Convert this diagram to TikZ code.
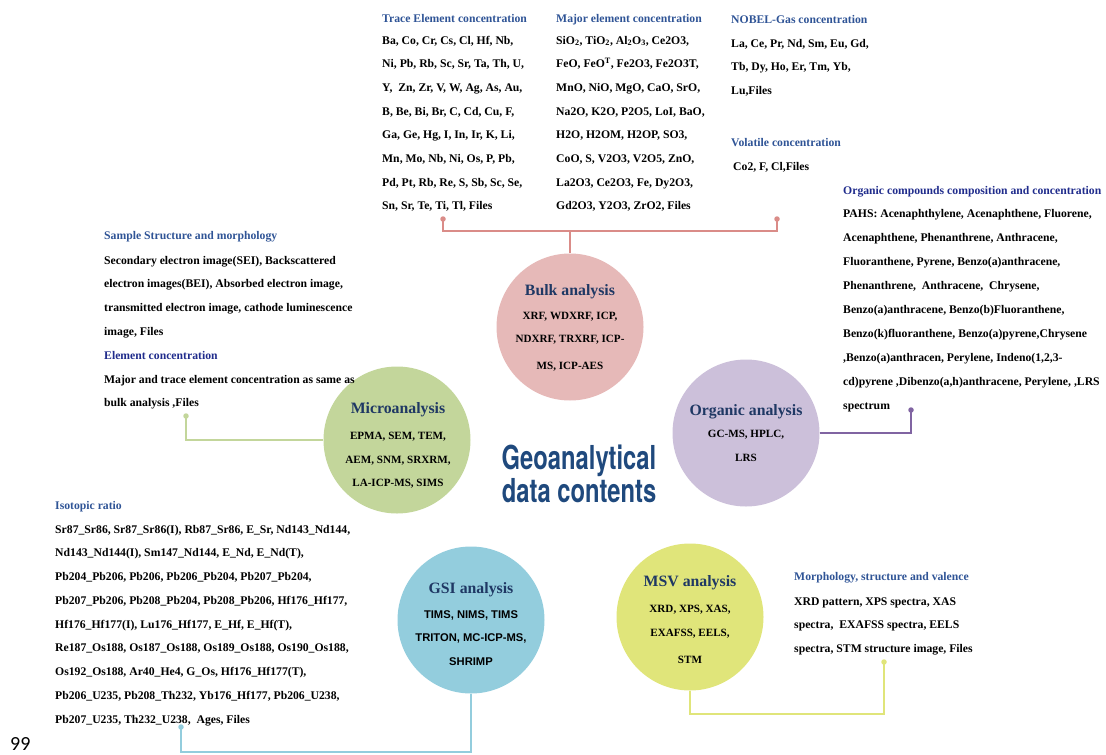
\documentclass[tikz,border=0pt]{standalone}
\usepackage{fontspec}
\setmainfont{Liberation Serif}
\newfontfamily\gsisans{Liberation Sans}
\newfontfamily\geotitlefont{TeX Gyre Heros}
\newfontfamily\pagenumfont{Carlito}
\definecolor{hdrblue}{RGB}{47,84,150}
\definecolor{hdrnavy}{RGB}{32,44,140}
\definecolor{ctblue}{RGB}{31,56,100}
\definecolor{geoblue}{RGB}{31,73,125}
\definecolor{bulkfill}{RGB}{230,185,184}
\definecolor{bulkline}{RGB}{218,140,136}
\definecolor{microfill}{RGB}{195,214,155}
\definecolor{orgfill}{RGB}{204,192,218}
\definecolor{orgline}{RGB}{128,100,162}
\definecolor{gsifill}{RGB}{147,205,221}
\definecolor{msvfill}{RGB}{224,229,122}
\newcommand{\gdLines}[5]{%
  \foreach \t [count=\i] in {#5} {\node[bodytxt] (#1\i) at (#2,{#3+#4*(\i-1)}) {\t};}}
\tikzset{
  bodytxt/.style={font=\bfseries\fontsize{11.7}{14}\selectfont, anchor=base west, inner sep=0pt},
  hdrtxt/.style={bodytxt, text=hdrblue},
  ctitle/.style={font=\bfseries\fontsize{15.8}{18}\selectfont, text=ctblue, anchor=base, inner sep=0pt},
  ctext/.style={font=\bfseries\fontsize{11.1}{13}\selectfont, anchor=base, inner sep=0pt},
  gsitext/.style={ctext, font=\gsisans\bfseries\fontsize{11.2}{13}\selectfont},
  bubble/.style={circle, minimum size=147pt, inner sep=0pt, draw=none},
  conn/.style={line width=2.4pt},
  enddot/.style={circle, fill, inner sep=0pt, minimum size=5.5pt}
}
\begin{document}
\begin{tikzpicture}[x=1pt,y=-1pt]
\useasboundingbox (0,0) rectangle (1106,755);
% end coordinates
\coordinate (bulkL) at (443,219);
\coordinate (bulkR) at (777,219);
\coordinate (bulkJ) at (570,231);
\coordinate (microE) at (186,416);
\coordinate (orgE) at (911,410);
\coordinate (gsiE) at (181,727);
\coordinate (gsiB) at (0,752);
\coordinate (msvE) at (884,662);
\coordinate (msvB) at (0,714);
% circles
\node[bubble, fill=bulkfill] (bulk) at (570,327) {};
\node[bubble, fill=microfill] (micro) at (397,440) {};
\node[bubble, fill=orgfill] (organic) at (746,433) {};
\node[bubble, fill=gsifill] (gsi) at (471,620) {};
\node[bubble, fill=msvfill] (msv) at (690,617) {};
% connectors
\draw[conn, bulkline] (bulkL) -- (bulkL |- bulkJ) -- (bulkR |- bulkJ) -- (bulkR);
\draw[conn, bulkline] (bulk.north) -- (bulkJ);
\node[enddot, fill=bulkline] (bulkLd) at (bulkL) {};
\node[enddot, fill=bulkline] (bulkRd) at (bulkR) {};
\draw[conn, microfill] (micro.west) -| (microE);
\node[enddot, fill=microfill] (microEd) at (microE) {};
\draw[conn, orgline] (organic.east) -| (orgE);
\node[enddot, fill=orgline] (orgEd) at (orgE) {};
\draw[conn, gsifill] (gsi.south) -- (gsi.south |- gsiB) -| (gsiE);
\node[enddot, fill=gsifill] (gsiEd) at (gsiE) {};
\draw[conn, msvfill] (msv.south) -- (msv.south |- msvB) -| (msvE);
\node[enddot, fill=msvfill] (msvEd) at (msvE) {};
% circle texts
\node[ctitle] (bulkT) at (570,295) {Bulk analysis};
\node[ctext] (bulk1) at (570,319) {XRF, WDXRF, ICP,};
\node[ctext] (bulk2) at (570,342) {NDXRF, TRXRF, ICP-};
\node[ctext] (bulk3) at (570,369) {MS, ICP-AES};
\node[ctitle] (microT) at (398,413) {Microanalysis};
\node[ctext] (micro1) at (398,439) {EPMA, SEM, TEM,};
\node[ctext] (micro2) at (398,463) {AEM, SNM, SRXRM,};
\node[ctext] (micro3) at (398,486) {LA-ICP-MS, SIMS};
\node[ctitle] (orgT) at (746,415) {Organic analysis};
\node[ctext] (org1) at (746,437) {GC-MS, HPLC,};
\node[ctext] (org2) at (746,461) {LRS};
\node[ctitle] (gsiT) at (471,593) {GSI analysis};
\node[gsitext] (gsi1) at (471,618) {TIMS, NIMS, TIMS};
\node[gsitext] (gsi2) at (471,641) {TRITON, MC-ICP-MS,};
\node[gsitext] (gsi3) at (471,665) {SHRIMP};
\node[ctitle] (msvT) at (690,586) {MSV analysis};
\node[ctext] (msv1) at (690,612) {XRD, XPS, XAS,};
\node[ctext] (msv2) at (690,636) {EXAFSS, EELS,};
\node[ctext] (msv3) at (690,663) {STM};
% central title
\node[font=\geotitlefont\bfseries\fontsize{33}{34}\selectfont, text=geoblue, inner sep=0pt, anchor=base] (geo1) at (579,469) {\scalebox{0.72}[1]{Geoanalytical}};
\node[font=\geotitlefont\bfseries\fontsize{33}{34}\selectfont, text=geoblue, inner sep=0pt, anchor=base] (geo2) at (579,502) {\scalebox{0.72}[1]{data contents}};
% trace elements
\node[hdrtxt] (teH) at (382,22) {Trace Element concentration};
\gdLines{te}{382}{44}{23.7}{{Ba, Co, Cr, Cs, Cl, Hf, Nb,},{Ni, Pb, Rb, Sc, Sr, Ta, Th, U,},{Y,\ \ Zn, Zr, V, W, Ag, As, Au,},{B, Be, Bi, Br, C, Cd, Cu, F,},{Ga, Ge, Hg, I, In, Ir, K, Li,},{Mn, Mo, Nb, Ni, Os, P, Pb,},{Pd, Pt, Rb, Re, S, Sb, Sc, Se,},{Sn, Sr, Te, Ti, Tl, Files}}
% major elements
\node[hdrtxt] (meH) at (556,22) {Major element concentration};
\gdLines{me}{556}{44}{23.7}{{SiO\textsubscript{2}, TiO\textsubscript{2}, Al\textsubscript{2}O\textsubscript{3}, Ce2O3,},{FeO, FeO\textsuperscript{T}, Fe2O3, Fe2O3T,},{MnO, NiO, MgO, CaO, SrO,},{Na2O, K2O, P2O5, LoI, BaO,},{H2O, H2OM, H2OP, SO3,},{CoO, S, V2O3, V2O5, ZnO,},{La2O3, Ce2O3, Fe, Dy2O3,},{Gd2O3, Y2O3, ZrO2, Files}}
% noble gas
\node[hdrtxt] (ngH) at (731,23) {NOBEL-Gas concentration};
\gdLines{ng}{731}{47}{23.7}{{La, Ce, Pr, Nd, Sm, Eu, Gd,},{Tb, Dy, Ho, Er, Tm, Yb,},{Lu,Files}}
% volatile
\node[hdrtxt] (voH) at (731,146) {Volatile concentration};
\node[bodytxt] (vo1) at (733,170) {Co2, F, Cl,Files};
% organic compounds
\node[hdrtxt, text=hdrnavy] (ocH) at (843,194) {Organic compounds composition and concentration};
\gdLines{oc}{843}{217}{24}{{PAHS: Acenaphthylene, Acenaphthene, Fluorene,},{Acenaphthene, Phenanthrene, Anthracene,},{Fluoranthene, Pyrene, Benzo(a)anthracene,},{Phenanthrene,\ \ Anthracene,\ \ Chrysene,},{Benzo(a)anthracene, Benzo(b)Fluoranthene,},{Benzo(k)fluoranthene, Benzo(a)pyrene,Chrysene},{,Benzo(a)anthracen, Perylene, Indeno(1,2,3-},{cd)pyrene ,Dibenzo(a,h)anthracene, Perylene, ,LRS},{spectrum}}
% sample structure
\node[hdrtxt] (ssH) at (104,239) {Sample Structure and morphology};
\gdLines{ss}{104}{264}{23.7}{{Secondary electron image(SEI), Backscattered},{electron images(BEI), Absorbed electron image,},{transmitted electron image, cathode luminescence},{image, Files}}
\node[hdrtxt, text=hdrnavy] (ecH) at (104,359) {Element concentration};
\gdLines{ec}{104}{383}{23.7}{{Major and trace element concentration as same as},{bulk analysis ,Files}}
% isotopic ratio
\node[hdrtxt] (isH) at (55,509) {Isotopic ratio};
\gdLines{is}{55}{533}{23.75}{{Sr87\_Sr86, Sr87\_Sr86(I), Rb87\_Sr86, E\_Sr, Nd143\_Nd144,},{Nd143\_Nd144(I), Sm147\_Nd144, E\_Nd, E\_Nd(T),},{Pb204\_Pb206, Pb206, Pb206\_Pb204, Pb207\_Pb204,},{Pb207\_Pb206, Pb208\_Pb204, Pb208\_Pb206, Hf176\_Hf177,},{Hf176\_Hf177(I), Lu176\_Hf177, E\_Hf, E\_Hf(T),},{Re187\_Os188, Os187\_Os188, Os189\_Os188, Os190\_Os188,},{Os192\_Os188, Ar40\_He4, G\_Os, Hf176\_Hf177(T),},{Pb206\_U235, Pb208\_Th232, Yb176\_Hf177, Pb206\_U238,},{Pb207\_U235, Th232\_U238,\ \ Ages, Files}}
% morphology
\node[hdrtxt] (msH) at (794,580) {Morphology, structure and valence};
\gdLines{ms}{794}{605}{23.7}{{XRD pattern, XPS spectra, XAS},{spectra,\ \ EXAFSS spectra, EELS},{spectra, STM structure image, Files}}
% page number
\node[font=\pagenumfont\fontsize{20}{22}\selectfont, anchor=base west, inner sep=0pt] (pnum) at (10,750) {99};
\end{tikzpicture}
\end{document}
